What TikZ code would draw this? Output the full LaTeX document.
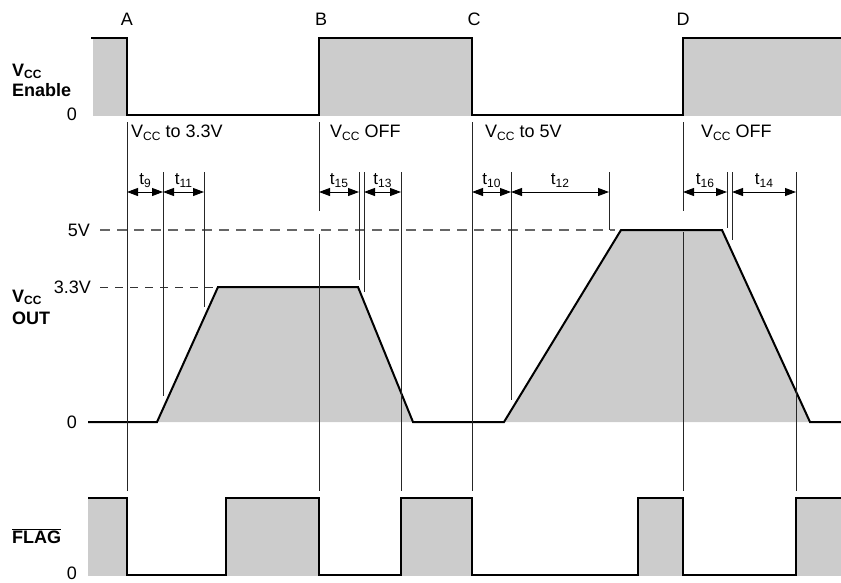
\documentclass[tikz,border=0pt]{standalone}
\usepackage{fontspec}
\setmainfont{Liberation Sans}
\usetikzlibrary{arrows.meta}
\definecolor{gfill}{HTML}{CCCCCC}
\newcommand\sbs[1]{\raisebox{-3pt}{\fontsize{12}{12}\selectfont #1}}
\newcommand\sbb[1]{\raisebox{-2pt}{\fontsize{12}{12}\selectfont #1}}
\begin{document}
\begin{tikzpicture}[x=1pt,y=-1pt,
  sig/.style={line width=2pt, line join=miter},
  fillg/.style={fill=gfill, draw=none},
  guide/.style={line width=0.9pt, draw=black!85},
  dim/.style={line width=0.9pt, draw=black, {Triangle[length=11pt,width=8pt]}-{Triangle[length=11pt,width=8pt]}},
  lbl/.style={inner sep=0pt, font=\fontsize{18}{20}\selectfont},
  blbl/.style={inner sep=0pt, font=\fontsize{18}{20}\selectfont\bfseries},
  tl/.style={inner sep=0pt, anchor=base, yshift=8pt, font=\fontsize{17}{20}\selectfont},
  dash33/.style={line width=1pt, draw=black!80, dash pattern=on 8pt off 7pt},
  dash5/.style={line width=1.2pt, draw=black!60, dash pattern=on 10pt off 7pt}]
\useasboundingbox (0,0) rectangle (841,582);
% time coordinates
\coordinate (A) at (127,0);
\coordinate (P9) at (163,0);
\coordinate (P11) at (204,0);
\coordinate (B) at (319,0);
\coordinate (P15) at (359,0);
\coordinate (P13a) at (364,0);
\coordinate (P13) at (401,0);
\coordinate (C) at (472,0);
\coordinate (P10) at (511,0);
\coordinate (P12) at (609,0);
\coordinate (D) at (683,0);
\coordinate (P16) at (727,0);
\coordinate (P14a) at (732,0);
\coordinate (P14) at (796,0);
\coordinate (yArr) at (0,192);

% ---------- VCC Enable ----------
\fill[gfill] (93,38) rectangle (127,116);
\fill[gfill] (319,38) rectangle (472,116);
\fill[gfill] (683,38) rectangle (841,116);
\draw[sig] (91,38) -- (127,38) -- (127,115) -- (319,115) -- (319,38) -- (472,38) -- (472,115) -- (683,115) -- (683,38) -- (841,38);

% ---------- VCC OUT ----------
\fill[gfill] (157,422) -- (218,287) -- (358,287) -- (413,422) -- cycle;
\fill[gfill] (504,422) -- (621,230) -- (722,230) -- (810,422) -- cycle;
\draw[dash5] (100,230) -- (615,230);
\draw[dash33] (100,287) -- (218,287);
\draw[sig] (88,422) -- (157,422) -- (218,287) -- (358,287) -- (413,422) -- (504,422) -- (621,230) -- (722,230) -- (810,422) -- (841,422);

% ---------- FLAG ----------
\fill[gfill] (88,498) rectangle (127,576);
\fill[gfill] (226,498) rectangle (319,576);
\fill[gfill] (401,498) rectangle (472,576);
\fill[gfill] (638,498) rectangle (683,576);
\fill[gfill] (796,498) rectangle (841,576);
\draw[sig] (88,498) -- (127,498) -- (127,575) -- (226,575) -- (226,498) -- (319,498) -- (319,575) -- (401,575) -- (401,498) -- (472,498) -- (472,575) -- (638,575) -- (638,498) -- (683,498) -- (683,575) -- (796,575) -- (796,498) -- (841,498);

% ---------- guide lines ----------
\draw[guide] ([yshift=-122pt]A) -- ([yshift=-491pt]A);
\draw[guide] ([yshift=-172pt]P9) -- ([yshift=-396pt]P9);
\draw[guide] ([yshift=-172pt]P11) -- ([yshift=-307pt]P11);
\draw[guide] ([yshift=-122pt]B) -- ([yshift=-211pt]B);
\draw[guide] ([yshift=-234pt]B) -- ([yshift=-491pt]B);
\draw[guide] ([yshift=-172pt]P15) -- ([yshift=-280pt]P15);
\draw[guide] ([yshift=-172pt]P13a) -- ([yshift=-292pt]P13a);
\draw[guide] ([yshift=-172pt]P13) -- ([yshift=-491pt]P13);
\draw[guide] ([yshift=-122pt]C) -- ([yshift=-491pt]C);
\draw[guide] ([yshift=-172pt]P10) -- ([yshift=-400pt]P10);
\draw[guide] ([yshift=-172pt]P12) -- ([yshift=-230pt]P12);
\draw[guide] ([yshift=-122pt]D) -- ([yshift=-211pt]D);
\draw[guide] ([yshift=-232pt]D) -- ([yshift=-491pt]D);
\draw[guide] ([yshift=-172pt]P16) -- ([yshift=-228pt]P16);
\draw[guide] ([yshift=-172pt]P14a) -- ([yshift=-240pt]P14a);
\draw[guide] ([yshift=-172pt]P14) -- ([yshift=-491pt]P14);

% ---------- timing arrows ----------
\draw[dim] (A|-yArr) -- node[tl]{t\sbs{9}} (P9|-yArr);
\draw[dim] (P9|-yArr) -- node[tl]{t\sbs{11}} (P11|-yArr);
\draw[dim] (B|-yArr) -- node[tl]{t\sbs{15}} (P15|-yArr);
\draw[dim] (P13a|-yArr) -- node[tl]{t\sbs{13}} (P13|-yArr);
\draw[dim] (C|-yArr) -- node[tl]{t\sbs{10}} (P10|-yArr);
\draw[dim] (P10|-yArr) -- node[tl]{t\sbs{12}} (P12|-yArr);
\draw[dim] (D|-yArr) -- node[tl]{t\sbs{16}} (P16|-yArr);
\draw[dim] (P14a|-yArr) -- node[tl]{t\sbs{14}} (P14|-yArr);

% ---------- labels ----------
\node[lbl, anchor=base] (lA) at (127,25) {A};
\node[lbl, anchor=base] (lB) at (321,25) {B};
\node[lbl, anchor=base] (lC) at (474,25) {C};
\node[lbl, anchor=base] (lD) at (683,25) {D};

\node[blbl, anchor=base west] (en1) at (12,76) {V\sbb{CC}};
\node[blbl, anchor=base west] (en2) at (12,96) {Enable};
\node[lbl] (z1) at (72,114) {0};

\node[lbl, anchor=base west] (m1) at (131,137) {V\sbs{CC} to 3.3V};
\node[lbl, anchor=base west] (m2) at (330,137) {V\sbs{CC} OFF};
\node[lbl, anchor=base west] (m3) at (485,137) {V\sbs{CC} to 5V};
\node[lbl, anchor=base west] (m4) at (701,137) {V\sbs{CC} OFF};

\node[lbl, anchor=east] (v5) at (90,230) {5V};
\node[lbl, anchor=east] (v33) at (91,287) {3.3V};
\node[blbl, anchor=base west] (out1) at (12,302) {V\sbb{CC}};
\node[blbl, anchor=base west] (out2) at (12,324) {OUT};
\node[lbl] (z2) at (72,422) {0};

\node[blbl, anchor=base west] (fl) at (12,543) {$\overline{\hbox{\bfseries FLAG}}$};
\node[lbl] (z3) at (72,573) {0};
\end{tikzpicture}
\end{document}
